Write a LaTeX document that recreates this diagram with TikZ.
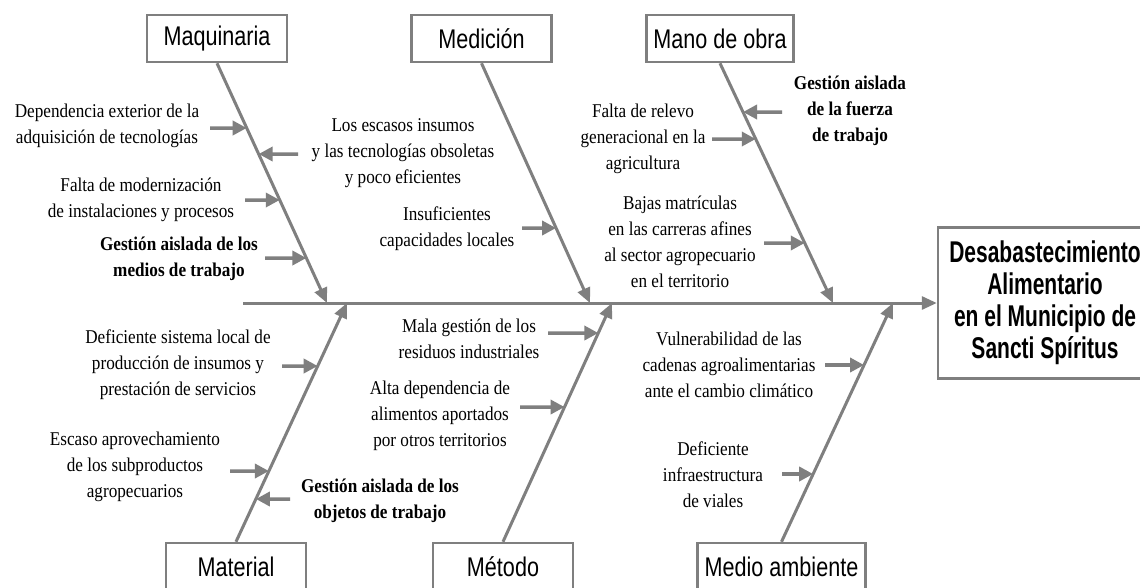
\documentclass[tikz,border=0pt]{standalone}
\usepackage{fontspec}
\setmainfont[FakeStretch=0.88]{Liberation Serif}
\newfontfamily\rotulofont[FakeStretch=0.8]{Liberation Sans}
\newfontfamily\efectofont[FakeStretch=0.7]{Liberation Sans}
\usetikzlibrary{arrows.meta}

\definecolor{hueso}{RGB}{127,127,127}

\tikzset{
  categoria/.style={draw=hueso, line width=2.5pt, fill=white, minimum width=140pt,
    minimum height=47pt, inner xsep=7pt, font=\rotulofont\fontsize{27}{30}\selectfont},
  efecto/.style={draw=hueso, line width=2.5pt, minimum width=214pt, minimum height=151pt,
    align=center, font=\efectofont\bfseries\fontsize{30}{32}\selectfont},
  causa/.style={align=center, inner sep=0pt, font=\fontsize{19.5}{26}\selectfont},
  causab/.style={causa, font=\bfseries\fontsize{19.5}{26}\selectfont},
  espina/.style={draw=hueso, line width=3pt, -{Triangle[length=15pt,width=13pt]}},
  flecha/.style={draw=hueso, line width=3.5pt, -{Triangle[length=14pt,width=14pt]}}
}

\begin{document}
\begin{tikzpicture}[x=1pt, y=-1pt]
      \useasboundingbox (0,0) rectangle (1140,587);
      \fill[white] (0,0) rectangle (1140,587);

      % Efecto y espina central
      \node[efecto] (efecto) at (1045,303) {Desabastecimiento\\Alimentario\\en el Municipio de\\Sancti Spíritus};
      \coordinate (cola) at (243,303);
      \draw[espina] (cola) -- (efecto.west);

      % Categorias
      \node[categoria] (maq) at (217,38.5) {Maquinaria};
      \node[categoria] (med) at (481.5,38.5) {Medición};
      \node[categoria] (mano) at (720,38.5) {Mano de obra};
      \node[categoria] (mat) at (236,566.5) {Material};
      \node[categoria] (met) at (503,566.5) {Método};
      \node[categoria] (amb) at (781.5,566.5) {Medio ambiente};

      \coordinate (jmaq) at (327,303);
      \coordinate (jmed) at (590,303);
      \coordinate (jmano) at (833,303);
      \coordinate (jmat) at (347,303);
      \coordinate (jmet) at (612,303);
      \coordinate (jamb) at (893,303);

      \draw[espina] (maq.south) -- (jmaq);
      \draw[espina] (med.south) -- (jmed);
      \draw[espina] (mano.south) -- (jmano);
      \draw[espina] (mat.north) -- (jmat);
      \draw[espina] (met.north) -- (jmet);
      \draw[espina] (amb.north) -- (jamb);

      % Maquinaria
      \node[causa] (dep) at (107,125.5) {Dependencia exterior de la\\adquisición de tecnologías};
      \coordinate (dep0) at (210,128);
      \coordinate (dep1) at (intersection of maq.south--jmaq and 0,128--1,128);
      \draw[flecha] (dep0) -- (dep1);

      \node[causa] (mod) at (141,199.5) {Falta de modernización\\de instalaciones y procesos};
      \coordinate (mod0) at (245,200);
      \coordinate (mod1) at (intersection of maq.south--jmaq and 0,200--1,200);
      \draw[flecha] (mod0) -- (mod1);

      \node[causab] (gmed) at (179,258.5) {Gestión aislada de los\\medios de trabajo};
      \coordinate (gmed0) at (265,258);
      \coordinate (gmed1) at (intersection of maq.south--jmaq and 0,258--1,258);
      \draw[flecha] (gmed0) -- (gmed1);

      \node[causa] (esc) at (403,153.5) {Los escasos insumos\\y las tecnologías obsoletas\\y poco eficientes};
      \coordinate (esc0) at (298,154);
      \coordinate (esc1) at (intersection of maq.south--jmaq and 0,154--1,154);
      \draw[flecha] (esc0) -- (esc1);

      % Medicion
      \node[causa] (insu) at (447,229) {Insuficientes\\capacidades locales};
      \coordinate (insu0) at (522,228);
      \coordinate (insu1) at (intersection of med.south--jmed and 0,228--1,228);
      \draw[flecha] (insu0) -- (insu1);

      % Mano de obra
      \node[causa] (rel) at (643,139) {Falta de relevo\\generacional en la\\agricultura};
      \coordinate (rel0) at (712,139);
      \coordinate (rel1) at (intersection of mano.south--jmano and 0,139--1,139);
      \draw[flecha] (rel0) -- (rel1);

      \node[causab] (gfza) at (850,111) {Gestión aislada\\de la fuerza\\de trabajo};
      \coordinate (gfza0) at (782,112);
      \coordinate (gfza1) at (intersection of mano.south--jmano and 0,112--1,112);
      \draw[flecha] (gfza0) -- (gfza1);

      \node[causa] (baj) at (680,242) {Bajas matrículas\\en las carreras afines\\al sector agropecuario\\en el territorio};
      \coordinate (baj0) at (764,243);
      \coordinate (baj1) at (intersection of mano.south--jmano and 0,243--1,243);
      \draw[flecha] (baj0) -- (baj1);

      % Material
      \node[causa] (sis) at (178,365) {Deficiente sistema local de\\producción de insumos y\\prestación de servicios};
      \coordinate (sis0) at (282,366);
      \coordinate (sis1) at (intersection of mat.north--jmat and 0,366--1,366);
      \draw[flecha] (sis0) -- (sis1);

      \node[causa] (esca) at (135,467) {Escaso aprovechamiento\\de los subproductos\\agropecuarios};
      \coordinate (esca0) at (230,471);
      \coordinate (esca1) at (intersection of mat.north--jmat and 0,471--1,471);
      \draw[flecha] (esca0) -- (esca1);

      \node[causab] (gobj) at (380,501) {Gestión aislada de los\\objetos de trabajo};
      \coordinate (gobj0) at (290,499);
      \coordinate (gobj1) at (intersection of mat.north--jmat and 0,499--1,499);
      \draw[flecha] (gobj0) -- (gobj1);

      % Metodo
      \node[causa] (mala) at (469,339) {Mala gestión de los\\residuos industriales};
      \coordinate (mala0) at (548,333);
      \coordinate (mala1) at (intersection of met.north--jmet and 0,333--1,333);
      \draw[flecha] (mala0) -- (mala1);

      \node[causa] (alta) at (440,416) {Alta dependencia de\\alimentos aportados\\por otros territorios};
      \coordinate (alta0) at (520,407);
      \coordinate (alta1) at (intersection of met.north--jmet and 0,407--1,407);
      \draw[flecha] (alta0) -- (alta1);

      % Medio ambiente
      \node[causa] (vul) at (729,365) {Vulnerabilidad de las\\cadenas agroalimentarias\\ante el cambio climático};
      \coordinate (vul0) at (825,365);
      \coordinate (vul1) at (intersection of amb.north--jamb and 0,365--1,365);
      \draw[flecha] (vul0) -- (vul1);

      \node[causa] (vial) at (713,475) {Deficiente\\infraestructura\\de viales};
      \coordinate (vial0) at (782,474);
      \coordinate (vial1) at (intersection of amb.north--jamb and 0,474--1,474);
      \draw[flecha] (vial0) -- (vial1);
\end{tikzpicture}
\end{document}
